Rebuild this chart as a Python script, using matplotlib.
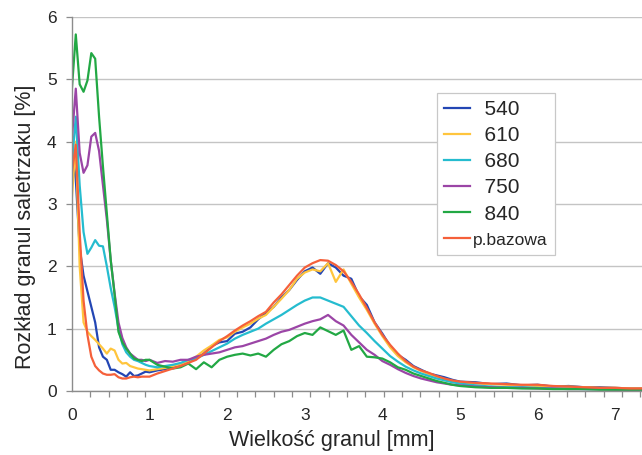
import numpy as np
import matplotlib.pyplot as plt

plt.rcParams['font.family'] = ['Liberation Sans', 'DejaVu Sans']

# wielkość granul [mm]: gęściej przy zerze, rzadziej na ogonie
x_mm = ([0.0, 0.05, 0.1, 0.15, 0.2, 0.25, 0.3, 0.35, 0.4, 0.45, 0.5,
         0.55, 0.6, 0.65, 0.7, 0.75, 0.8, 0.85, 0.9, 0.95, 1.0]
        + [round(1.1 + 0.1 * i, 1) for i in range(40)]
        + [5.2, 5.4, 5.6, 5.8, 6.0, 6.2, 6.4, 6.6, 6.8, 7.0, 7.2, 7.4])

labels = ['540', '610', '680', '750', '840', 'p.bazowa']
colors = ['#2346b4', '#ffc53d', '#25bccf', '#9b45a6', '#22a844', '#f5603a']

r540 = [3.9, 3.4, 2.3, 1.85, 1.6, 1.35, 1.1, 0.7, 0.55, 0.5, 0.34,
        0.34, 0.3, 0.27, 0.23, 0.3, 0.24, 0.25, 0.28, 0.31, 0.3,
        0.33, 0.35, 0.38, 0.42, 0.46, 0.52, 0.6, 0.72, 0.78, 0.8,
        0.92, 0.95, 1.02, 1.15, 1.25, 1.35, 1.5, 1.62, 1.78, 1.92,
        1.98, 1.88, 2.05, 1.98, 1.85, 1.8, 1.52, 1.38, 1.1, 0.92,
        0.72, 0.58, 0.5, 0.4, 0.34, 0.28, 0.25, 0.22, 0.18, 0.15,
        0.14, 0.11, 0.12, 0.09, 0.1, 0.07, 0.08, 0.06, 0.06, 0.05, 0.04, 0.04]

r610 = [3.1, 4.0, 2.0, 1.1, 0.95, 0.88, 0.82, 0.75, 0.68, 0.6, 0.68,
        0.65, 0.5, 0.44, 0.45, 0.4, 0.38, 0.36, 0.35, 0.34, 0.33,
        0.35, 0.37, 0.4, 0.43, 0.48, 0.55, 0.65, 0.73, 0.82, 0.86,
        0.95, 1.02, 1.08, 1.16, 1.22, 1.35, 1.48, 1.62, 1.8, 1.9,
        1.95, 1.92, 2.05, 1.75, 1.95, 1.72, 1.5, 1.3, 1.08, 0.88,
        0.7, 0.56, 0.46, 0.38, 0.32, 0.27, 0.23, 0.19, 0.16, 0.14,
        0.12, 0.11, 0.1, 0.09, 0.08, 0.07, 0.07, 0.06, 0.05, 0.05, 0.04, 0.04]

r680 = [3.65, 4.4, 3.3, 2.55, 2.2, 2.3, 2.42, 2.33, 2.32, 2.0, 1.65,
        1.35, 1.0, 0.75, 0.62, 0.55, 0.5, 0.48, 0.45, 0.42, 0.4,
        0.38, 0.4, 0.42, 0.45, 0.5, 0.52, 0.58, 0.64, 0.7, 0.76,
        0.84, 0.9, 0.95, 1.0, 1.08, 1.15, 1.22, 1.3, 1.38, 1.45,
        1.5, 1.5, 1.45, 1.4, 1.35, 1.2, 1.05, 0.93, 0.8, 0.68,
        0.56, 0.47, 0.39, 0.33, 0.28, 0.24, 0.2, 0.17, 0.14, 0.12,
        0.09, 0.07, 0.06, 0.06, 0.05, 0.04, 0.04, 0.03, 0.03, 0.03, 0.02, 0.02]

r750 = [4.05, 4.85, 3.82, 3.5, 3.62, 4.08, 4.14, 3.85, 3.3, 2.75, 2.1,
        1.57, 1.1, 0.85, 0.7, 0.6, 0.55, 0.5, 0.5, 0.48, 0.5,
        0.45, 0.48, 0.47, 0.5, 0.5, 0.55, 0.58, 0.6, 0.62, 0.66,
        0.7, 0.72, 0.76, 0.8, 0.84, 0.9, 0.95, 0.98, 1.03, 1.08,
        1.12, 1.15, 1.22, 1.12, 1.05, 0.9, 0.78, 0.66, 0.58, 0.48,
        0.42, 0.35, 0.29, 0.24, 0.2, 0.17, 0.14, 0.12, 0.1, 0.09,
        0.07, 0.06, 0.05, 0.05, 0.04, 0.04, 0.03, 0.03, 0.03, 0.02, 0.02, 0.02]

r840 = [4.85, 5.72, 4.92, 4.8, 4.98, 5.42, 5.33, 4.4, 3.6, 2.85, 2.1,
        1.55, 0.95, 0.78, 0.68, 0.6, 0.52, 0.5, 0.48, 0.5, 0.5,
        0.42, 0.39, 0.36, 0.38, 0.44, 0.35, 0.46, 0.38, 0.5, 0.55,
        0.58, 0.6, 0.57, 0.6, 0.55, 0.66, 0.75, 0.8, 0.88, 0.93,
        0.9, 1.02, 0.96, 0.9, 0.97, 0.66, 0.72, 0.55, 0.54, 0.52,
        0.46, 0.38, 0.34, 0.28, 0.24, 0.2, 0.16, 0.13, 0.1, 0.08,
        0.06, 0.05, 0.05, 0.04, 0.04, 0.03, 0.03, 0.03, 0.02, 0.02, 0.02, 0.02]

r_baza = [3.5, 3.95, 2.55, 1.45, 0.9, 0.55, 0.4, 0.33, 0.28, 0.26, 0.26,
          0.27, 0.22, 0.2, 0.2, 0.22, 0.23, 0.22, 0.23, 0.23, 0.23,
          0.28, 0.32, 0.36, 0.4, 0.45, 0.5, 0.6, 0.7, 0.8, 0.88,
          0.97, 1.05, 1.12, 1.2, 1.27, 1.42, 1.55, 1.7, 1.85, 1.98,
          2.05, 2.1, 2.09, 2.02, 1.92, 1.75, 1.55, 1.33, 1.1, 0.9,
          0.74, 0.6, 0.48, 0.39, 0.33, 0.29, 0.24, 0.2, 0.17, 0.15,
          0.13, 0.12, 0.11, 0.1, 0.1, 0.08, 0.07, 0.06, 0.05, 0.05, 0.04, 0.04]

series = [r540, r610, r680, r750, r840, r_baza]

fig = plt.figure(figsize=(6.42, 4.55), dpi=100)
ax = fig.add_axes([0.112, 0.1407, 0.888, 0.822])

for y, lab, c in zip(series, labels, colors):
    name = lab if lab == 'p.bazowa' else '  ' + lab
    ax.plot(x_mm, y, color=c, lw=1.6, label=name)

ax.set_xlim(0, 7.345)
ax.set_ylim(0, 6)
ax.set_yticks(range(0, 7))
ax.set_xticks(range(0, 8))
ax.set_xticks(np.arange(0, 7.4, 0.2363), minor=True)
ax.tick_params(axis='x', which='major', length=0, pad=12, labelsize=12.5, colors='#262626')
ax.tick_params(axis='x', which='minor', length=4, color='#8c8c8c', width=0.9)
ax.tick_params(axis='y', length=4, color='#8c8c8c', width=0.9, labelsize=12.5,
               labelcolor='#262626', pad=7)

ax.grid(axis='y', color='#c4c4c4', lw=1)
ax.set_axisbelow(True)
for s in ['top', 'right']:
    ax.spines[s].set_visible(False)
for s in ['left', 'bottom']:
    ax.spines[s].set_color('#8c8c8c')
    ax.spines[s].set_linewidth(1)

ax.set_xlabel('Wielkość granul [mm]', fontsize=15.5, color='#262626')
ax.set_ylabel('Rozkład granul saletrzaku [%]', fontsize=15.5, color='#262626')
ax.xaxis.set_label_coords(0.456, -0.104)
ax.yaxis.set_label_coords(-0.063, 0.44)

leg = ax.legend(loc='upper left', bbox_to_anchor=(0.640, 0.797), borderaxespad=0,
                frameon=True, fancybox=False, edgecolor='#c8c8c8', framealpha=1,
                handlelength=1.25, handletextpad=0.15, labelspacing=0.34, borderpad=0.35,
                prop={'size': 15})
leg.get_frame().set_linewidth(0.9)
for t in leg.get_texts():
    t.set_color('#262626')
    if t.get_text() == 'p.bazowa':
        t.set_fontsize(12.5)

fig.savefig('out.png', dpi=100)
